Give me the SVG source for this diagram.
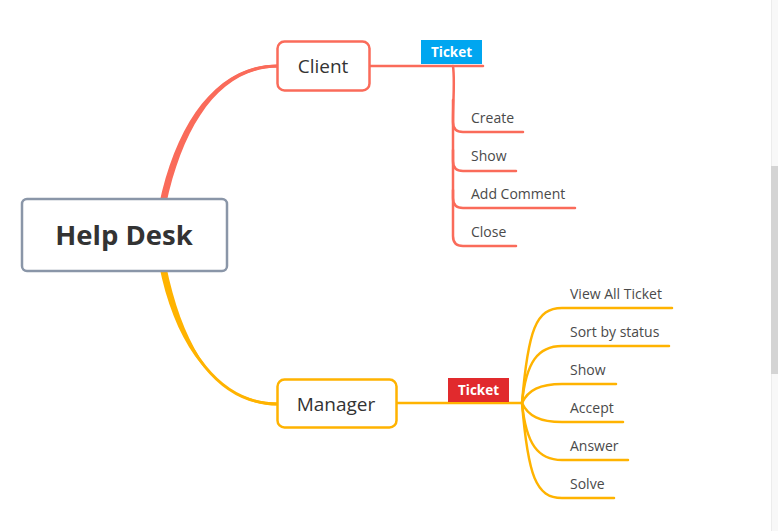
<svg xmlns="http://www.w3.org/2000/svg" width="778" height="531" viewBox="0 0 778 531">
<style>
.node{fill:#fff;stroke-width:2.5}
.t{font-family:"Open Sans","Noto Sans","Liberation Sans",sans-serif;fill:#333}
.sub{font-size:14px;fill:#4a4a4a}
.lbl{font-family:"Open Sans","Noto Sans","Liberation Sans",sans-serif;font-weight:bold;font-size:13.5px;fill:#fff}
.r{fill:none;stroke:#fa6b5a;stroke-width:2.5;stroke-linecap:round}
.y{fill:none;stroke:#ffb300;stroke-width:2.5;stroke-linecap:round}
</style>
<rect width="778" height="531" fill="#fff"/>
<g id="scrollbar">
<rect x="771" y="0" width="7" height="531" fill="#f8f8f8"/>
<rect x="771" y="0" width="1" height="531" fill="#ececec"/>
<rect x="771" y="166" width="7" height="208" fill="#d4d4d4"/>
</g>
<g id="connectors">
<path d="M159,205 C177,119 219,64.4 278,64.4 L278,67.6 C222,67.6 184,121 166,205 Z" fill="#fa6b5a"/>
<path d="M162.5,205 C180,120 220,66 278,66" fill="none" stroke="#fa6b5a" stroke-width="2.8"/>
<path d="M159,265 C176,350 218,402.4 278,402.4 L278,405.6 C221,405.6 184,353 166,265 Z" fill="#ffb300"/>
<path d="M162.5,265 C180,351 220,404 278,404" fill="none" stroke="#ffb300" stroke-width="2.8"/>
<path class="r" d="M369,66 L483,66"/>
<path class="r" d="M453,66 C455,80 453,100 453,122 Q453,132 463,132 L523,132"/>
<path class="r" d="M453,100 L453,161 Q453,171 463,171 L516,171"/>
<path class="r" d="M453,150 L453,198 Q453,208 463,208 L575,208"/>
<path class="r" d="M453,190 L453,236 Q453,246 463,246 L516,246"/>
<path class="y" d="M396,403 L522,403"/>
<path class="y" d="M522,403 C528,330 536,308 562,308 L672,308"/>
<path class="y" d="M522,403 C526,362 538,346 562,346 L669,346"/>
<path class="y" d="M522,403 C528,390 540,384 562,384 L616,384"/>
<path class="y" d="M522,403 C528,416 540,422 562,422 L623,422"/>
<path class="y" d="M522,403 C526,444 538,460 562,460 L628,460"/>
<path class="y" d="M522,403 C528,476 536,498 562,498 L614,498"/>
</g>
<g id="help-desk">
<rect class="node" x="22" y="199" width="205" height="72" rx="5" stroke="#8a96a8" stroke-width="3"/>
<text class="t" x="124" y="245" font-size="27.5" font-weight="bold" text-anchor="middle">Help Desk</text>
</g>
<g id="client">
<rect class="node" x="277.5" y="41.5" width="92" height="49" rx="7" stroke="#fa6b5a"/>
<text class="t" x="323" y="72.5" font-size="19" text-anchor="middle">Client</text>
</g>
<g id="client-ticket">
<rect x="421" y="40" width="61" height="24" fill="#00a6f0"/>
<text class="lbl" x="451.5" y="57" text-anchor="middle">Ticket</text>
</g>
<g id="client-create"><text class="t sub" x="471" y="123">Create</text></g>
<g id="client-show"><text class="t sub" x="471" y="161">Show</text></g>
<g id="client-add-comment"><text class="t sub" x="471" y="199">Add Comment</text></g>
<g id="client-close"><text class="t sub" x="471" y="237">Close</text></g>
<g id="manager">
<rect class="node" x="277.5" y="379.5" width="119" height="48" rx="7" stroke="#ffb300"/>
<text class="t" x="336" y="410.5" font-size="19" text-anchor="middle">Manager</text>
</g>
<g id="manager-ticket">
<rect x="448" y="378" width="61" height="24" fill="#e12a2d"/>
<text class="lbl" x="478.5" y="395" text-anchor="middle">Ticket</text>
</g>
<g id="m-view-all"><text class="t sub" x="570" y="299">View All Ticket</text></g>
<g id="m-sort"><text class="t sub" x="570" y="337">Sort by status</text></g>
<g id="m-show"><text class="t sub" x="570" y="375">Show</text></g>
<g id="m-accept"><text class="t sub" x="570" y="413">Accept</text></g>
<g id="m-answer"><text class="t sub" x="570" y="451">Answer</text></g>
<g id="m-solve"><text class="t sub" x="570" y="489">Solve</text></g>
</svg>
